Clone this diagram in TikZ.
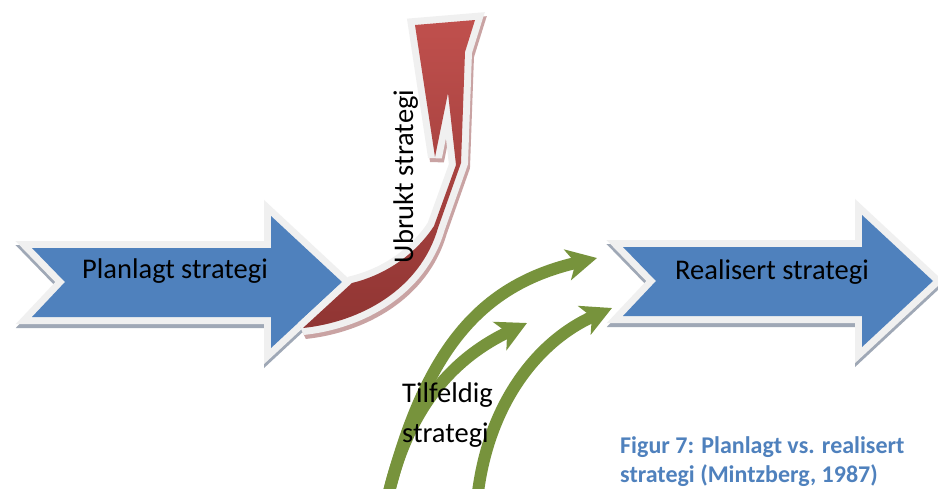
\documentclass[tikz,border=0pt]{standalone}
\usepackage{fontspec}
\setmainfont{Carlito}
\usetikzlibrary{arrows.meta}
\definecolor{blueF}{HTML}{4F81BD}
\definecolor{redF}{HTML}{C0504D}
\definecolor{redD}{HTML}{903533}
\definecolor{greenF}{HTML}{77933C}
\definecolor{borderC}{HTML}{F0F0F0}
\definecolor{shadowB}{HTML}{9FA8B6}
\definecolor{shadowR}{HTML}{C9A3A3}
\definecolor{capC}{HTML}{4F81BD}
\begin{document}
\begin{tikzpicture}[x=1pt,y=-1pt,
  rimblue/.style={draw=borderC, fill=borderC, line width=14pt, line join=miter},
  shadowblue/.style={draw=shadowB, fill=shadowB, line width=14pt, line join=miter},
  rimred/.style={draw=borderC, fill=borderC, line width=14pt, line join=miter, miter limit=3},
  shadowred/.style={draw=shadowR, fill=shadowR, line width=14pt, line join=miter, miter limit=3},
  greenarrow/.style={draw=greenF, line width=12pt, -{Stealth[length=30pt,width=31pt,inset=8pt]}},
  lbl/.style={font=\fontsize{28.5}{34}\selectfont, text=black, inner sep=0pt},
  captext/.style={font=\fontsize{24}{29}\selectfont\bfseries, text=capC, inner sep=0pt, anchor=base west}]
\useasboundingbox (0,0) rectangle (938,488);
\clip (0,0) rectangle (938,488);
\fill[white] (0,0) rectangle (938,488);

% green arrows (emergent strategy)
\coordinate (g1s) at (388,496);
\coordinate (g1e) at (597,258);
\coordinate (g2e) at (527,323);
\coordinate (g3s) at (478,492);
\coordinate (g3e) at (612,308);
\draw[greenarrow] (g1s) .. controls (425,350) and (480,285) .. (g1e);
\draw[greenarrow] (g1s) .. controls (410,400) and (460,355) .. (g2e);
\draw[greenarrow] (g3s) .. controls (490,400) and (540,340) .. (g3e);

% block arrows
\foreach \dx/\dy in {0/0, 591/-1}{
  \begin{scope}[shift={(\dx,\dy)}]
    \path[shadowblue, shift={(0,4)}] (32,248) -- (271,248) -- (271,216) -- (342,282) -- (271,348) -- (271,317) -- (32,317) -- (65,282) -- cycle;
    \path[rimblue] (32,248) -- (271,248) -- (271,216) -- (342,282) -- (271,348) -- (271,317) -- (32,317) -- (65,282) -- cycle;
    \fill[blueF] (32,248) -- (271,248) -- (271,216) -- (342,282) -- (271,348) -- (271,317) -- (32,317) -- (65,282) -- cycle;
  \end{scope}
}

% red curved arrow (unrealised strategy)
\path[shadowred, shift={(2,4)}] (303,328) .. controls (360,322) and (420,290) .. (438,228) -- (461,163) -- (465,52) -- (475,20) -- (415,25) -- (435,157) -- (448,93) -- (456,165) -- (434,226) .. controls (415,255) and (385,275) .. (352,283) -- cycle;
\path[rimred] (303,328) .. controls (360,322) and (420,290) .. (438,228) -- (461,163) -- (465,52) -- (475,20) -- (415,25) -- (435,157) -- (448,93) -- (456,165) -- (434,226) .. controls (415,255) and (385,275) .. (352,283) -- cycle;
\shade[top color=redF, middle color=redF, bottom color=redD] (303,328) .. controls (360,322) and (420,290) .. (438,228) -- (461,163) -- (465,52) -- (475,20) -- (415,25) -- (435,157) -- (448,93) -- (456,165) -- (434,226) .. controls (415,255) and (385,275) .. (352,283) -- cycle;

% labels
\node[lbl, anchor=base] (plan) at (175,278) {Planlagt strategi};
\node[lbl, anchor=base] (real) at (772,279) {Realisert strategi};
\node[lbl, anchor=base, rotate=90] (ubr) at (413,176.5) {Ubrukt strategi};
\node[lbl, anchor=base west] (tilf) at (402,402) {Tilfeldig};
\node[lbl, anchor=base west] (tilf2) at (402,442) {strategi};
\node[captext] (cap1) at (620,453) {Figur 7: Planlagt vs. realisert};
\node[captext] (cap2) at (620,482) {strategi (Mintzberg, 1987)};
\end{tikzpicture}
\end{document}
